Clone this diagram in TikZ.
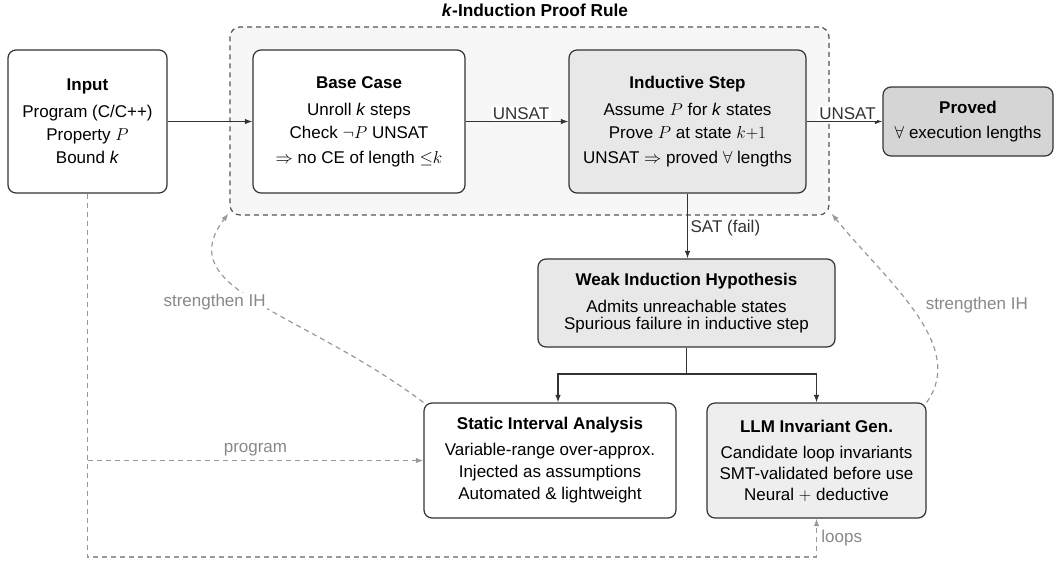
\documentclass[tikz,border=0pt]{standalone}
\usepackage{fontspec}
\setmainfont{Liberation Sans}
\usetikzlibrary{arrows.meta,positioning,calc}
\definecolor{linec}{HTML}{333333}
\definecolor{grpfill}{HTML}{F7F7F7}
\definecolor{grpdraw}{HTML}{555555}
\definecolor{indfill}{HTML}{E8E8E8}
\definecolor{llmfill}{HTML}{EEEEEE}
\definecolor{provfill}{HTML}{D5D5D5}
\definecolor{softc}{HTML}{999999}
\definecolor{softtext}{HTML}{888888}
\newcommand{\bodyfont}{\fontsize{17}{17}\selectfont}
\tikzset{
  box/.style={draw=linec, line width=1.2pt, rounded corners=8pt, align=center, inner sep=0pt, font=\bodyfont},
  grpbox/.style={draw=grpdraw, line width=1.2pt, dash pattern=on 5pt off 4pt, rounded corners=10pt, fill=grpfill, inner sep=0pt},
  conn/.style={draw=linec, line width=1.2pt, -{Latex[length=7.5pt,width=5.5pt]}},
  plain/.style={draw=linec, line width=1.2pt},
  soft/.style={draw=softc, line width=1.2pt, dash pattern=on 5pt off 4pt, -{Latex[length=7.5pt,width=5.5pt]}},
  lbl/.style={fill=white, inner sep=1.5pt, text=linec, font=\bodyfont},
  softlbl/.style={fill=white, inner sep=1.5pt, text=softtext, font=\bodyfont},
  softtxt/.style={text=softtext, font=\bodyfont},
  ttl/.style={font=\fontsize{17.3}{17}\selectfont\bfseries}
}
\begin{document}
\begin{tikzpicture}[x=1pt,y=-1pt]
\useasboundingbox (0,0) rectangle (1060,560);
% group
\node[grpbox, minimum width=599pt, minimum height=188pt] (grp) at (529.5,121) {};
\node[ttl, anchor=center] (grpttl) at (535,10) {\textit{k}-Induction Proof Rule};
% boxes
\node[box, fill=white, minimum width=159pt, minimum height=143pt] (inp) at (87.5,121.5)
  {\textbf{Input}\\[10pt] Program (C/C++)\\[6pt] Property $P$\\[6pt] Bound \textit{k}};
\node[box, fill=white, minimum width=212pt, minimum height=143pt] (base) at (359,121.5)
  {\textbf{Base Case}\\[10pt] Unroll \textit{k} steps\\[6pt] Check $\neg P$ UNSAT\\[8pt] $\Rightarrow$ no CE of length ${\leq}k$};
\node[box, fill=indfill, minimum width=237pt, minimum height=143pt] (ind) at (687.5,121.5)
  {\textbf{Inductive Step}\\[10pt] Assume $P$ for \textit{k} states\\[6pt] Prove $P$ at state $k{+}1$\\[8pt] UNSAT $\Rightarrow$ proved $\forall$ lengths};
\node[box, fill=provfill, minimum width=170pt, minimum height=69pt] (prov) at (968,121.5)
  {\textbf{Proved}\\[8pt] $\forall$ execution lengths};
\node[box, fill=indfill, minimum width=297pt, minimum height=88pt] (weak) at (686.5,303)
  {\textbf{Weak Induction Hypothesis}\\[10pt] Admits unreachable states\\ Spurious failure in inductive step};
\node[box, fill=white, minimum width=252pt, minimum height=115pt] (stat) at (550,460.5)
  {\textbf{Static Interval Analysis}\\[9pt] Variable-range over-approx.\\[5pt] Injected as assumptions\\[5pt] Automated \& lightweight};
\node[box, fill=llmfill, minimum width=219pt, minimum height=115pt] (llm) at (816.5,460.5)
  {\textbf{LLM Invariant Gen.}\\[9pt] Candidate loop invariants\\[4pt] SMT-validated before use\\[4pt] Neural $+$ deductive};
% main connectors
\draw[conn] (inp.east) -- (base.west);
\draw[conn] (base.east) -- node[lbl, above=0pt, xshift=4pt] {UNSAT} (ind.west);
\draw[conn] (ind.east) -- node[lbl, above=0pt, xshift=3pt] {UNSAT} (prov.west);
\draw[conn] (ind.south) -- node[lbl, right=1pt, yshift=-2pt] {SAT (fail)} (ind.south |- weak.north);
\coordinate (split) at (686.5,374);
\draw[plain] (weak.south) -- (split);
\draw[conn] (split) -| ([xshift=8pt]stat.north);
\draw[conn] (split) -| (llm.north);
% soft connectors
\coordinate (bl) at (87.5,557);
\coordinate (pj) at (87.5,460.5);
\draw[soft] (inp.south) -- (bl) -| node[pos=0.75, right=1pt, softtxt] {loops} (llm.south);
\draw[soft] (pj) -- node[above=1pt, softtxt] {program} (stat.west);
\draw[soft] (stat.north west) .. controls (300,310) and (170,290) .. node[pos=0.5, softlbl, anchor=east, xshift=10pt] {strengthen IH} ([xshift=-1pt,yshift=2pt]grp.south west);
\draw[soft] (llm.north east) .. controls (968,345) and (885,280) .. node[pos=0.5, softlbl, anchor=west, xshift=9pt, yshift=6pt] {strengthen IH} ([xshift=2pt,yshift=2pt]grp.south east);
\end{tikzpicture}
\end{document}
